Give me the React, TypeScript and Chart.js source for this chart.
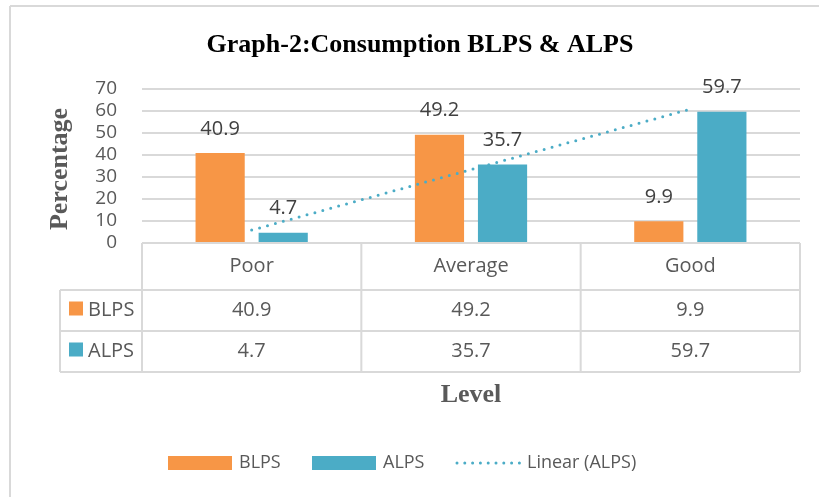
import React, { useEffect, useRef } from "react";
import { Chart, registerables } from "chart.js";

Chart.register(...registerables);

const categories = ["Poor", "Average", "Good"];
const blps = [40.9, 49.2, 9.9];
const alps = [4.7, 35.7, 59.7];
// Excel linear trendline of ALPS, read at each category
const alpsTrend = [5.87, 33.37, 60.87];
const seriesNames = ["BLPS", "ALPS"];
const trendName = "Linear (ALPS)";
const chartTitle = "Graph-2:Consumption BLPS & ALPS";
const yTitle = "Percentage";
const xTitle = "Level";

const ORANGE = "#F79646";
const TEAL = "#4BACC6";
const GRID = "#d9d9d9";
const TEXT = "#595959";
const SANS = '"Open Sans", sans-serif';
const SERIF = '"Liberation Serif", "Times New Roman", serif';

const decorPlugin = {
  id: "decor",
  afterDatasetsDraw(chart: any) {
    const ctx = chart.ctx;
    ctx.save();
    ctx.font = `20px ${SANS}`;
    ctx.fillStyle = "#404040";
    ctx.textAlign = "center";
    ctx.textBaseline = "middle";
    [1, 2].forEach((di) => {
      const meta = chart.getDatasetMeta(di);
      const vals = di === 1 ? blps : alps;
      meta.data.forEach((bar: any, i: number) => {
        ctx.fillText(String(vals[i]), bar.x, bar.y - 24);
      });
    });
    ctx.restore();
  },
  afterDraw(chart: any) {
    const ctx = chart.ctx;
    const area = chart.chartArea;
    const xs = chart.scales.x;
    const n = categories.length;
    const colW = (area.right - area.left) / n;
    ctx.save();

    // outer frame (top + left)
    ctx.strokeStyle = GRID;
    ctx.lineWidth = 2;
    ctx.beginPath();
    ctx.moveTo(10, 6);
    ctx.lineTo(819, 6);
    ctx.moveTo(10, 6);
    ctx.lineTo(10, 497);
    ctx.stroke();

    // title
    ctx.fillStyle = "#000";
    ctx.font = `bold 26px ${SERIF}`;
    ctx.textAlign = "center";
    ctx.textBaseline = "alphabetic";
    ctx.fillText(chartTitle, 420, 52);

    // y title
    ctx.save();
    ctx.fillStyle = TEXT;
    ctx.translate(67, 169);
    ctx.rotate(-Math.PI / 2);
    ctx.fillText(yTitle, 0, 0);
    ctx.restore();

    // data table
    const top = area.bottom;
    const r1 = top + 47;
    const r2 = r1 + 41;
    const r3 = r2 + 41;
    const legLeft = 60;
    ctx.strokeStyle = GRID;
    ctx.lineWidth = 2;
    ctx.beginPath();
    ctx.moveTo(area.left, top);
    ctx.lineTo(area.right, top);
    [r1, r2, r3].forEach((y) => {
      ctx.moveTo(legLeft, y);
      ctx.lineTo(area.right, y);
    });
    for (let i = 0; i <= n; i++) {
      const x = area.left + i * colW;
      ctx.moveTo(x, top);
      ctx.lineTo(x, r3);
    }
    ctx.moveTo(legLeft, r1);
    ctx.lineTo(legLeft, r3);
    ctx.stroke();

    ctx.font = `20px ${SANS}`;
    ctx.fillStyle = TEXT;
    ctx.textAlign = "center";
    ctx.textBaseline = "middle";
    categories.forEach((c, i) => {
      const cx = xs.getPixelForValue(i);
      ctx.fillText(c, cx, (top + r1) / 2);
      ctx.fillText(String(blps[i]), cx, (r1 + r2) / 2);
      ctx.fillText(String(alps[i]), cx, (r2 + r3) / 2);
    });
    // row headers
    ctx.textAlign = "left";
    [
      [ORANGE, seriesNames[0], (r1 + r2) / 2],
      [TEAL, seriesNames[1], (r2 + r3) / 2],
    ].forEach(([col, name, cy]: any) => {
      ctx.fillStyle = col;
      ctx.fillRect(69, cy - 9, 14, 14);
      ctx.fillStyle = TEXT;
      ctx.fillText(name, 88, cy);
    });

    // x title
    ctx.font = `bold 26px ${SERIF}`;
    ctx.textAlign = "center";
    ctx.textBaseline = "alphabetic";
    ctx.fillText(xTitle, (area.left + area.right) / 2, 402);

    // legend
    const ly = 463;
    ctx.font = `18px ${SANS}`;
    ctx.textAlign = "left";
    ctx.textBaseline = "middle";
    ctx.fillStyle = ORANGE;
    ctx.fillRect(168, ly - 7, 64, 14);
    ctx.fillStyle = TEXT;
    ctx.fillText(seriesNames[0], 239, ly);
    ctx.fillStyle = TEAL;
    ctx.fillRect(312, ly - 7, 64, 14);
    ctx.fillStyle = TEXT;
    ctx.fillText(seriesNames[1], 383, ly);
    ctx.strokeStyle = TEAL;
    ctx.lineWidth = 3;
    ctx.lineCap = "round";
    ctx.setLineDash([0, 7.8]);
    ctx.beginPath();
    ctx.moveTo(457, ly);
    ctx.lineTo(520, ly);
    ctx.stroke();
    ctx.setLineDash([]);
    ctx.fillStyle = TEXT;
    ctx.fillText(trendName, 527, ly);

    ctx.restore();
  },
};

export default function App() {
  const ref = useRef<HTMLCanvasElement>(null);
  useEffect(() => {
    document.body.style.margin = "0";
    const chart = new Chart(ref.current!, {
      type: "bar",
      data: {
        labels: categories,
        datasets: [
          {
            type: "line",
            label: trendName,
            data: alpsTrend,
            borderColor: TEAL,
            borderWidth: 3,
            borderDash: [0, 8.2],
            borderCapStyle: "round",
            pointRadius: 0,
            fill: false,
            order: 0,
          } as any,
          {
            label: seriesNames[0],
            data: blps,
            backgroundColor: ORANGE,
            categoryPercentage: 0.575,
            barPercentage: 0.78,
            order: 1,
          },
          {
            label: seriesNames[1],
            data: alps,
            backgroundColor: TEAL,
            categoryPercentage: 0.575,
            barPercentage: 0.78,
            order: 1,
          },
        ],
      },
      options: {
        responsive: false,
        animation: false,
        layout: { padding: { left: 0, top: 89, right: 19, bottom: 254 } },
        plugins: {
          legend: { display: false },
          title: { display: false },
          tooltip: { enabled: false },
        },
        scales: {
          x: { display: false },
          y: {
            min: 0,
            max: 70,
            ticks: {
              stepSize: 10,
              autoSkip: false,
              padding: 25,
              color: TEXT,
              font: { family: "Open Sans", size: 19 },
            },
            grid: { color: GRID, lineWidth: 2, drawTicks: false },
            border: { display: false },
            afterFit: (scale: any) => {
              scale.width = 142;
            },
          } as any,
        },
      },
      plugins: [decorPlugin],
    });
    return () => chart.destroy();
  }, []);
  return (
    <div style={{ width: 819, height: 497, background: "#fff" }}>
      <canvas ref={ref} width={819} height={497} />
    </div>
  );
}
